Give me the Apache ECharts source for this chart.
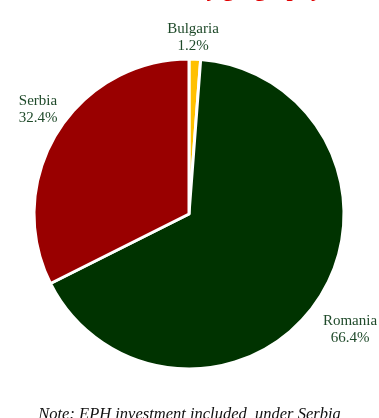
<!DOCTYPE html>
<html>
<head>
<meta charset="utf-8">
<style>
  html, body { margin: 0; padding: 0; background: #fff; }
  #main { width: 379px; height: 418px; }
</style>
<script src="https://cdn.jsdelivr.net/npm/echarts@6/dist/echarts.min.js"></script>
</head>
<body>
<div id="main"></div>
<script>
// 数据
var countries = ['Bulgaria', 'Romania', 'Serbia'];
var shares = [1.2, 66.4, 32.4];
var colors = ['#FFC000', '#003300', '#990000'];

// 标签位置
var labelPos = [
    {x: 193, y: 38},
    {x: 350, y: 330},
    {x: 38, y: 110}
];

var chart = echarts.init(document.getElementById('main'));

var option = {
    animation: false,
    graphic: [
        {
            type: 'text',
            right: 57,
            top: -21,
            style: {
                text: 'Investment by geography',
                fill: '#e00000',
                font: 'bold 22px "Liberation Serif", serif'
            }
        },
        {
            type: 'text',
            left: 'center',
            top: 406,
            style: {
                text: 'Note: EPH investment included  under Serbia',
                fill: '#111',
                font: 'italic 16.5px "Liberation Serif", serif'
            }
        }
    ],
    series: [{
        type: 'pie',
        center: [189, 214],
        radius: [0, 155],
        startAngle: 90,
        clockwise: true,
        avoidLabelOverlap: false,
        itemStyle: {
            borderColor: '#fff',
            borderWidth: 3
        },
        label: {
            show: true,
            position: 'inside',
            formatter: function (p) {
                return p.name + '\n' + p.value.toFixed(1) + '%';
            },
            color: '#1f4a2a',
            fontFamily: '"Liberation Serif", serif',
            fontSize: 15,
            lineHeight: 17,
            align: 'center'
        },
        labelLine: {show: false},
        labelLayout: function (params) {
            var p = labelPos[params.dataIndex];
            return {x: p.x, y: p.y, align: 'center', verticalAlign: 'middle'};
        },
        data: countries.map(function (c, i) {
            return {name: c, value: shares[i], itemStyle: {color: colors[i]}};
        })
    }]
};

chart.setOption(option);
</script>
</body>
</html>
